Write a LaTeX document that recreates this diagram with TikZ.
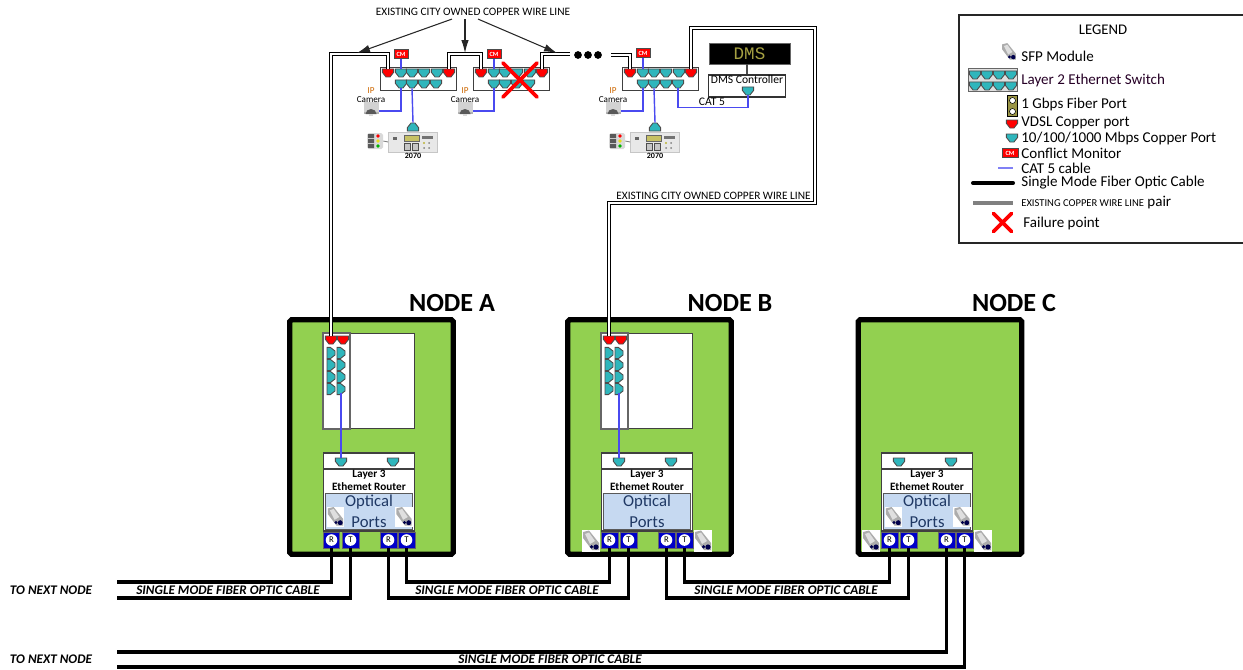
\documentclass[tikz,border=0pt]{standalone}
\usepackage{fontspec}
\setmainfont{Carlito}
\newfontfamily\dmsfont{Liberation Mono}
\usetikzlibrary{arrows.meta,positioning,calc}
\definecolor{nodegreen}{HTML}{92D050}
\definecolor{opticblue}{HTML}{C6D9F1}
\definecolor{copperteal}{HTML}{2FB6BC}
\definecolor{rtblue}{HTML}{0000C8}
\definecolor{opticink}{HTML}{1F3864}
\definecolor{catblue}{HTML}{4A4AF0}
\newcommand{\fsz}[1]{\fontsize{#1}{#1}\selectfont}
\newcommand{\vport}[4]{\node[portnode] (#1) at (#2) {}; \pic[rotate=#4] at (#1) {port=#3};}
\tikzset{
  pics/port/.style={code={
    \draw[fill=#1, draw=black!70, line width=.5pt, line join=miter]
      (-5.6,-4) -- (5.6,-4) -- (5.6,-.6) -- (2,4) -- (-2,4) -- (-5.6,-.6) -- cycle;}},
  pics/sfp/.style={code={
    \fill[white] (-9,-11) rectangle (9,11);
    \fill[gray!65] (-8,-9) -- (-2,-10.5) -- (8,2) -- (8,9) -- (1,9) -- (-8,-3) -- cycle;
    \fill[gray!25] (-6,-7) -- (-2,-8.5) -- (4,0) -- (-1,3) -- cycle;
    \fill[black!70!blue] (5,6) circle (2.6);
    \fill[black!70!blue] (0.5,5.8) circle (1.8);}},
  pics/camera/.style={code={
    \fill[gray!35] (-7.5,-8.5) -- (7.5,-8.5) -- (7.5,1) -- (-7.5,1) -- cycle;
    \fill[gray!60] (-7.5,1) rectangle (7.5,3);
    \fill[black!65] (-5.5,3) arc (180:360:5.5 and 5) -- cycle;
    \fill[gray!30] (-2,3) rectangle (2,5);}},
  pics/signal/.style={code={
    \fill[gray!30, rounded corners=1pt] (-8,-8) rectangle (8,8);
    \fill[black!65] (-7,-7) rectangle (-1,-3) (-7,-2) rectangle (-1,2) (-7,3) rectangle (-1,7);
    \fill[red] (3,-5) circle (1.8);
    \fill[yellow!90!black] (3,0) circle (1.8);
    \fill[green!70!black] (3,5) circle (1.8);}},
  pics/ctrlface/.style={code={
    \fill[black!60] (-20,-5) rectangle (-16,-2);
    \draw[fill=yellow!50!gray, draw=black!60, line width=.2pt] (-9,-7) rectangle (6,-1);
    \draw[fill=gray!45, draw=black!70, line width=.3pt] (-9,1) rectangle (-3,8) (-1,1) rectangle (5,8);
    \fill[yellow!70!black] (11,1) circle (1.2);
    \fill[gray] (16,1) circle (1) (11,6) circle (1) (16,6) circle (1);
    \fill[black!55] (9,-6) rectangle (20,-3);}},
  pics/crossx/.style={code={
    \draw[red, line width=2.1pt, line cap=round] (-#1,-#1) -- (#1,#1) (-#1,#1) -- (#1,-#1);}}
}
\begin{document}
\begin{tikzpicture}[x=0.02cm, y=-0.02cm,
   portnode/.style={inner sep=0pt, minimum width=5.6pt, minimum height=4.5pt},
   swbox/.style={draw=black!75, line width=.7pt, minimum width=43.6pt, minimum height=13pt, inner sep=0pt},
   cmbox/.style={draw=black!70, fill=red, line width=.3pt, text=white, inner sep=0pt,
                 minimum width=8pt, minimum height=5pt, font=\fsz{3.6}\bfseries},
   wirelbl/.style={font=\fsz{6.45}, inner sep=0pt},
   camlbl/.style={font=\fsz{5.2}, inner sep=0pt, align=center},
   ctrl/.style={fill=gray!18, draw=gray!45, line width=.3pt, minimum width=28pt, minimum height=11.5pt, inner sep=0pt},
   lgd/.style={font=\fsz{8.55}, anchor=west, inner sep=0pt},
   fibrelbl/.style={font=\fsz{7.5}\bfseries\itshape, inner sep=0pt},
   nodetitle/.style={font=\fsz{14.9}\bfseries, inner sep=0pt},
   site/.style={draw=black, fill=nodegreen, line width=3pt, rounded corners=1pt,
                minimum width=93pt, minimum height=133.5pt, inner sep=0pt},
   rt/.style={fill=rtblue, draw=black!60, line width=.3pt, minimum width=9.4pt, minimum height=9pt, inner sep=0pt},
   rtmark/.style={circle, fill=white, inner sep=0pt, minimum size=6.6pt, font=\fsz{5}},
   fiber/.style={draw=black, line width=2.2pt},
   cuwire/.style={draw=black, line width=.5pt, double=white, double distance=1pt},
   cat/.style={draw=catblue, line width=.8pt},
   fl/.style={-{Latex[length=2.6mm,width=1.5mm]}, draw=black!85, line width=.6pt}]
  \useasboundingbox (0,0) rectangle (1243,669);

  \node[site] (site-a) at (371.5,437) {};
  \node[site] (site-b) at (649.5,437) {};
  \node[site] (site-c) at (940,437) {};
  \node[nodetitle] (title-a) at (452,303) {NODE A};
  \node[nodetitle] (title-b) at (730,303) {NODE B};
  \node[nodetitle] (title-c) at (1014,303) {NODE C};

  \foreach \nd/\ox in {a/0,b/278} {
    \begin{scope}[shift={(\ox,0)}]
      \node[draw=black!75, fill=white, line width=.7pt, minimum width=52pt, minimum height=54.4pt, inner sep=0pt] (\nd-shelf) at (369,381) {};
      \node[draw=black!60, fill=white, line width=.9pt, minimum width=15.3pt, minimum height=54.4pt, inner sep=0pt] (\nd-strip) at (336.5,381) {};
      \vport{\nd-v1}{331,340}{red}{0}
      \vport{\nd-v2}{343,340}{red}{0}
      \foreach \r/\yy in {1/353,2/365,3/377,4/389} {
        \vport{\nd-p1\r}{331,\yy}{copperteal}{90}
        \vport{\nd-p2\r}{341,\yy}{copperteal}{90}
      }
    \end{scope}
  }
  \foreach \nd/\ox in {a/0,b/278,c/558} {
    \begin{scope}[shift={(\ox,0)}]
      \node[draw=black!75, fill=white, line width=.9pt, minimum width=52pt, minimum height=44.2pt, inner sep=0pt] (\nd-router) at (369,492) {};
      \draw[black!75, line width=.9pt] (323,469) -- (415,469);
      \vport{\nd-up}{341,462}{copperteal}{0}
      \vport{\nd-dn}{393,462}{copperteal}{0}
      \node[font=\fsz{6.4}\bfseries, inner sep=0pt] (\nd-rtitle) at (369,474.5) {Layer 3};
      \node[font=\fsz{6.4}\bfseries, inner sep=0pt] (\nd-rname) at (369,487) {Ethemet Router};
      \node[draw=black!65, fill=opticblue, line width=.6pt, minimum width=50pt, minimum height=21pt, inner sep=0pt] (\nd-optic) at (369,511.5) {};
      \node[font=\fsz{9.5}, text=opticink, inner sep=0pt] (\nd-olbl) at (369,502) {Optical};
      \node[font=\fsz{9.5}, text=opticink, inner sep=0pt] (\nd-plbl) at (369,522) {Ports};
      \node[rt] (\nd-r1) at (331.5,540) {};
      \node[rt] (\nd-t1) at (350.5,540) {};
      \node[rt] (\nd-r2) at (388.5,540) {};
      \node[rt] (\nd-t2) at (406.5,540) {};
      \node[rtmark] (\nd-r1m) at (\nd-r1) {R};
      \node[rtmark] (\nd-t1m) at (\nd-t1) {T};
      \node[rtmark] (\nd-r2m) at (\nd-r2) {R};
      \node[rtmark] (\nd-t2m) at (\nd-t2) {T};
    \end{scope}
  }
  \foreach \ox in {0,558} {
    \pic[scale=.95] at (\ox+335.5,517) {sfp};
    \pic[scale=.95] at (\ox+404,517) {sfp};
  }
  \foreach \ox in {278,558} {
    \pic at (\ox+313,541) {sfp};
    \pic at (\ox+425,541) {sfp};
  }
  \draw[cat] (a-p24.south) -- (a-up.north);
  \draw[cat] (b-p24.south) -- (b-up.north);

  \coordinate (hi) at (0,582);
  \coordinate (lo) at (0,598);
  \coordinate (end-a) at (117,582);
  \coordinate (end-b) at (117,598);
  \coordinate (end-c) at (117,652);
  \coordinate (end-d) at (117,667);
  \draw[fiber] (a-r1.south) |- (end-a);
  \draw[fiber] (a-t1.south) |- (end-b);
  \draw[fiber] (a-r2.south) -- (a-r2 |- lo) -- (b-t1 |- lo) -- (b-t1.south);
  \draw[fiber] (a-t2.south) -- (a-t2 |- hi) -- (b-r1 |- hi) -- (b-r1.south);
  \draw[fiber] (b-r2.south) -- (b-r2 |- lo) -- (c-t1 |- lo) -- (c-t1.south);
  \draw[fiber] (b-t2.south) -- (b-t2 |- hi) -- (c-r1 |- hi) -- (c-r1.south);
  \draw[fiber] (c-r2.south) |- (end-c);
  \draw[fiber] (c-t2.south) |- (end-d);
  \node[fibrelbl] (fl-a) at (228,590) {SINGLE MODE FIBER OPTIC CABLE};
  \node[fibrelbl] (fl-b) at (507,590) {SINGLE MODE FIBER OPTIC CABLE};
  \node[fibrelbl] (fl-c) at (786,590) {SINGLE MODE FIBER OPTIC CABLE};
  \node[fibrelbl] (fl-d) at (550,659) {SINGLE MODE FIBER OPTIC CABLE};
  \node[fibrelbl] (next-a) at (51,590) {TO NEXT NODE};
  \node[fibrelbl] (next-b) at (51,659) {TO NEXT NODE};

  \foreach \s/\ox in {1/0,2/93,3/242} {
    \node[swbox] (sw\s) at (418.5+\ox,79) {};
    \vport{sw\s-vl}{388+\ox,73}{red}{0}
    \vport{sw\s-vr}{449+\ox,73}{red}{0}
    \foreach \i/\xx in {1/401,2/412,3/424,4/437} {
      \vport{sw\s-t\i}{\xx+\ox,73}{copperteal}{0}
    }
    \foreach \i/\xx in {1/401,2/412,3/424,4/436} {
      \vport{sw\s-b\i}{\xx+\ox,84}{copperteal}{0}
    }
  }
  \foreach \s/\xx/\yy in {1/401/54,2/494/54,3/643/53} {
    \node[cmbox] (cm\s) at (\xx,\yy) {CM};
    \draw[cat] (cm\s.south) -- (sw\s-t1.north);
  }
  \foreach \s/\xx in {1/371,2/465,3/613} {
    \node[inner sep=0pt, minimum width=8.5pt, minimum height=10pt] (cam\s) at (\xx,111) {};
    \pic at (cam\s) {camera};
    \node[camlbl, text=orange!80!black] (ip\s) at (\xx,91) {IP};
    \node[camlbl] (caml\s) at (\xx,100) {Camera};
    \draw[cat] (sw\s-b1.south) |- (cam\s.east);
  }
  \foreach \s/\xx in {1/413,3/655} {
    \node[ctrl] (ctl\s) at (\xx,142) {};
    \pic at (ctl\s) {ctrlface};
    \node[inner sep=0pt, minimum width=9pt, minimum height=9pt] (lamp\s) at (\xx-38,141) {};
    \pic at (lamp\s) {signal};
    \draw[black!50, line width=.5pt] (lamp\s.east) -- (ctl\s.west);
    \node[font=\fsz{4.6}\bfseries, inner sep=0pt] (num\s) at (\xx,156) {2070};
    \vport{ctltop\s}{\xx,127}{copperteal}{180}
  }
  \draw[cat] (sw1-b2.south) -- (ctltop1.north);
  \draw[cat] (sw3-b2.south) -- (ctltop3.north);

  \node[draw=black!60, fill=black, minimum width=46pt, minimum height=12pt, inner sep=0pt,
        font=\dmsfont\fsz{10}, text=yellow!60!black] (dms) at (749.5,53.5) {DMS};
  \node[draw=black!80, fill=white, line width=.6pt, minimum width=44pt, minimum height=12.5pt, inner sep=0pt] (dmsctl) at (747,86) {};
  \node[font=\fsz{6.6}, inner sep=0pt] (dmslbl) at (747,80) {DMS Controller};
  \vport{dmsport}{748,91}{copperteal}{0}
  \draw[black!70, line width=.6pt] (dms.south -| dmsctl) -- (dmsctl.north);
  \draw[cat] (sw3-b4.south) |- ($(dmsport.south)+(0,12)$) -- (dmsport.south);
  \node[font=\fsz{6.6}, inner sep=0pt] (catlbl) at (712,102) {CAT 5};

  \coordinate (wa2) at (333,54);
  \coordinate (wb1) at (611,55);
  \coordinate (wc1) at (570,54);
  \draw[cuwire] (a-v1.north) -- (a-v1.north |- wa2) -| (sw1-vl.north);
  \draw[cuwire] (sw1-vr.north) |- (sw2-vl.north |- wa2) -- (sw2-vl.north);
  \draw[cuwire] (sw2-vr.north) |- (wc1);
  \draw[cuwire] (wb1) -| (sw3-vl.north);
  \coordinate (wd1) at (815,28);
  \coordinate (wd2) at (815,203);
  \draw[cuwire] (sw3-vr.north) |- (wd1) -- (wd2) -| (b-v1.north);
  \foreach \i/\xx in {1/578,2/588,3/598} {
    \node[circle, fill=black, inner sep=0pt, minimum size=4.4pt] (dot\i) at (\xx,55) {};
  }

  \node[wirelbl] (toplbl) at (473,12) {EXISTING CITY OWNED COPPER WIRE LINE};
  \node[wirelbl, anchor=east] (sidelbl) at (811,196) {EXISTING CITY OWNED COPPER WIRE LINE};
  \coordinate (tipa) at (357,53);
  \coordinate (tipb) at (465,53);
  \coordinate (tipc) at (557,53);
  \draw[fl] ($(toplbl.south)+(-21,3)$) -- (tipa);
  \draw[fl] ($(toplbl.south)+(-8,3)$) -- (tipb);
  \draw[fl] ($(toplbl.south)+(5,3)$) -- (tipc);
  \pic at (520,80) {crossx=17};

  \coordinate (lg-tr) at (1243,15);
  \coordinate (lg-br) at (1243,243);
  \draw[black!85, line width=.9pt] (lg-tr) -- (959,15) -- (959,243) -- (lg-br);
  \node[font=\fsz{8.4}, inner sep=0pt] (lg-title) at (1103,30) {LEGEND};
  \pic[scale=.85] at (1009,52) {sfp};
  \node[lgd] (lg-sfp) at (1021,56) {SFP Module};
  \node[draw=gray!80!black, fill=gray!25, line width=.7pt, minimum width=28pt, minimum height=13.5pt, inner sep=0pt] (lg-sw) at (993,80) {};
  \foreach \xx in {975,987,999,1011} {
    \pic at (\xx,75) {port=copperteal};
    \pic at (\xx,86) {port=copperteal};
  }
  \node[lgd, text=black!70!violet] (lg-swt) at (1021,80) {Layer 2 Ethernet Switch};
  \node[draw=black, fill=yellow!55!black, minimum width=5.6pt, minimum height=12.2pt, inner sep=0pt, line width=.4pt] (lg-fp) at (1012.5,106) {};
  \fill[white, draw=black, line width=.3pt] (1012.5,100.5) circle (3);
  \fill[white, draw=black, line width=.3pt] (1012.5,111.5) circle (3);
  \node[lgd] (lg-fpt) at (1021,104) {1 Gbps Fiber Port};
  \pic at (1012,124) {port=red};
  \node[lgd] (lg-vd) at (1021,123) {VDSL Copper port};
  \pic at (1012,138) {port=copperteal};
  \node[lgd] (lg-cu) at (1021,138) {10/100/1000 Mbps Copper Port};
  \node[cmbox, minimum width=9pt, minimum height=5.4pt] (lg-cm) at (1010,153) {CM};
  \node[lgd] (lg-cmt) at (1021,153) {Conflict Monitor};
  \node[lgd] (lg-cat) at (1021,168) {CAT 5 cable};
  \node[lgd] (lg-fib) at (1021,183) {Single Mode Fiber Optic Cable};
  \node[lgd] (lg-gry) at (1021,203) {{\fsz{6}EXISTING COPPER WIRE LINE} pair};
  \node[lgd] (lg-fail) at (1023,223) {Failure point};
  \coordinate (k1) at (998,168);
  \coordinate (k2) at (973,183);
  \coordinate (k3) at (973,203);
  \draw[catblue!70!white, line width=.8pt] (k1) -- (k1 -| 1013,0);
  \draw[black, line width=2.3pt, line cap=round] (k2) -- (k2 -| 1013,0);
  \draw[gray, line width=2.3pt] (k3) -- (k3 -| 1013,0);
  \pic at (1002.5,222.5) {crossx=9};
\end{tikzpicture}
\end{document}
